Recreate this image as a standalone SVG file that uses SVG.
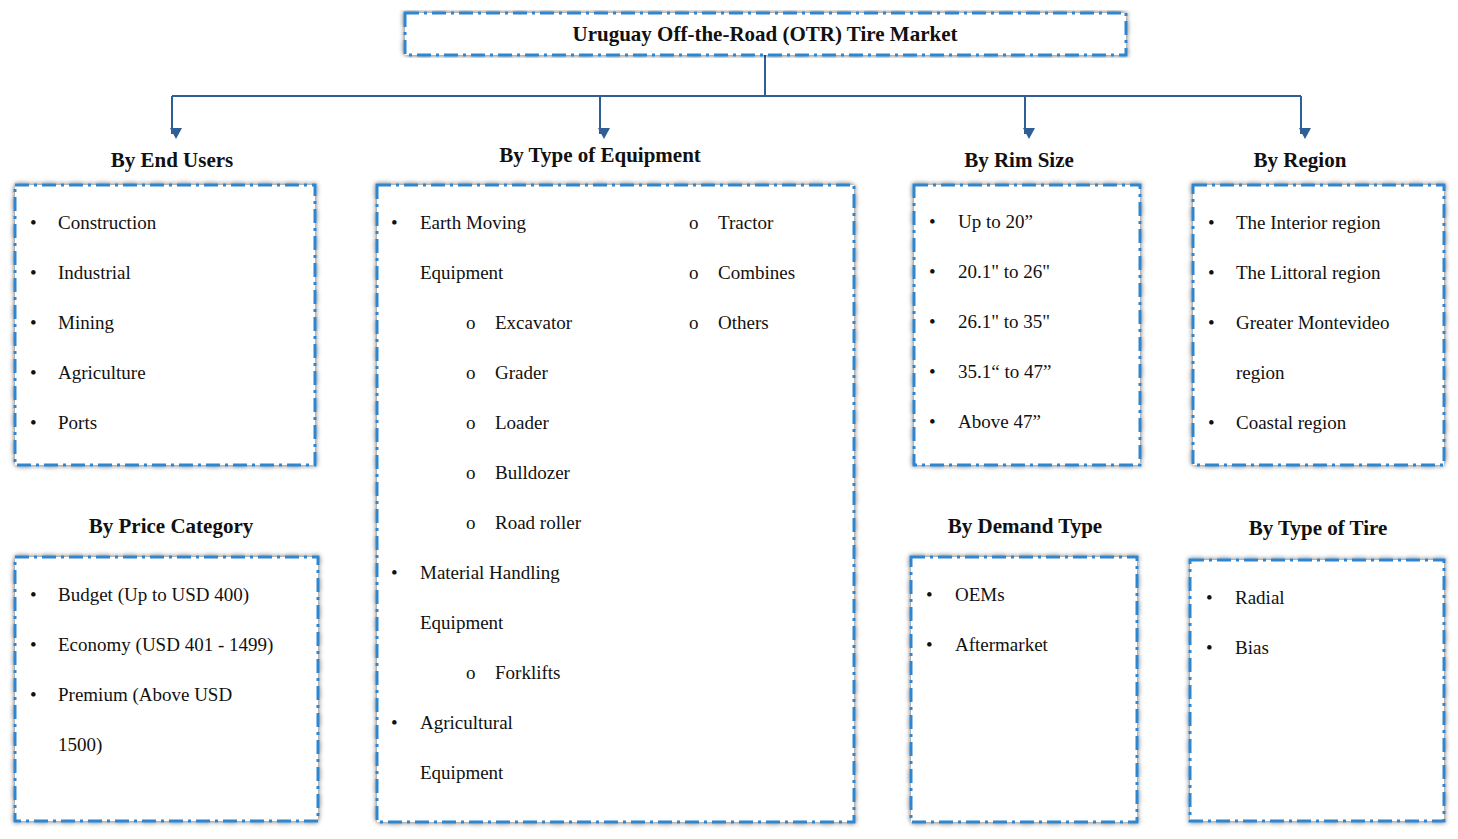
<svg xmlns="http://www.w3.org/2000/svg" width="1458" height="839" viewBox="0 0 1458 839">
<defs>
<filter id="sh" x="-5%" y="-5%" width="110%" height="110%"><feGaussianBlur in="SourceAlpha" stdDeviation="2.5"/><feOffset dx="0" dy="0"/><feComponentTransfer><feFuncA type="linear" slope="0.6"/></feComponentTransfer><feMerge><feMergeNode/><feMergeNode in="SourceGraphic"/></feMerge></filter>
<marker id="ar" markerWidth="12" markerHeight="12" refX="6" refY="10" orient="auto" markerUnits="userSpaceOnUse" viewBox="0 0 12 12"><path d="M0,0 L12,0 L6,11 Z" fill="#2F5F96" transform="rotate(-90 6 6)"/></marker>
<style>
.box{fill:#fff;stroke:#2E86D0;stroke-width:3;stroke-dasharray:14 5 3 5;filter:url(#sh)}
text{font-family:"Liberation Serif","DejaVu Serif",serif;font-size:19px;fill:#111}
.h{font-weight:bold;font-size:21px;text-anchor:middle}
.c{stroke:#2F5F96;stroke-width:2;fill:none}
</style>
</defs>
<g id="connectors">
<path class="c" d="M765,55 V97 M172,96 H1301"/>
<path class="c" d="M172,96 V134" marker-end="url(#ar)"/>
<path class="c" d="M600,96 V134" marker-end="url(#ar)"/>
<path class="c" d="M1025,96 V134" marker-end="url(#ar)"/>
<path class="c" d="M1301,96 V134" marker-end="url(#ar)"/>
</g>
<g id="title"><rect class="box" x="405" y="13" width="721" height="42"/><text class="h" x="765" y="41">Uruguay Off-the-Road (OTR) Tire Market</text></g>
<g id="end-users"><text class="h" x="172" y="167">By End Users</text><rect class="box" x="15" y="185" width="300" height="280"/>
<text x="30" y="229">•</text><text x="58" y="229">Construction</text>
<text x="30" y="279">•</text><text x="58" y="279">Industrial</text>
<text x="30" y="329">•</text><text x="58" y="329">Mining</text>
<text x="30" y="379">•</text><text x="58" y="379">Agriculture</text>
<text x="30" y="429">•</text><text x="58" y="429">Ports</text></g>
<g id="equipment"><text class="h" x="600" y="162">By Type of Equipment</text><rect class="box" x="377" y="185" width="477" height="637"/>
<text x="391" y="229">•</text><text x="420" y="229">Earth Moving</text>
<text x="420" y="279">Equipment</text>
<text x="466" y="329">o</text><text x="495" y="329">Excavator</text>
<text x="466" y="379">o</text><text x="495" y="379">Grader</text>
<text x="466" y="429">o</text><text x="495" y="429">Loader</text>
<text x="466" y="479">o</text><text x="495" y="479">Bulldozer</text>
<text x="466" y="529">o</text><text x="495" y="529">Road roller</text>
<text x="391" y="579">•</text><text x="420" y="579">Material Handling</text>
<text x="420" y="629">Equipment</text>
<text x="466" y="679">o</text><text x="495" y="679">Forklifts</text>
<text x="391" y="729">•</text><text x="420" y="729">Agricultural</text>
<text x="420" y="779">Equipment</text>
<text x="689" y="229">o</text><text x="718" y="229">Tractor</text>
<text x="689" y="279">o</text><text x="718" y="279">Combines</text>
<text x="689" y="329">o</text><text x="718" y="329">Others</text></g>
<g id="rim"><text class="h" x="1019" y="167">By Rim Size</text><rect class="box" x="914" y="185" width="226" height="280"/>
<text x="929" y="228">•</text><text x="958" y="228">Up to 20”</text>
<text x="929" y="278">•</text><text x="958" y="278">20.1" to 26"</text>
<text x="929" y="328">•</text><text x="958" y="328">26.1" to 35"</text>
<text x="929" y="378">•</text><text x="958" y="378">35.1“ to 47”</text>
<text x="929" y="428">•</text><text x="958" y="428">Above 47”</text></g>
<g id="region"><text class="h" x="1300" y="167">By Region</text><rect class="box" x="1193" y="185" width="251" height="280"/>
<text x="1208" y="229">•</text><text x="1236" y="229">The Interior region</text>
<text x="1208" y="279">•</text><text x="1236" y="279">The Littoral region</text>
<text x="1208" y="329">•</text><text x="1236" y="329">Greater Montevideo</text>
<text x="1236" y="379">region</text>
<text x="1208" y="429">•</text><text x="1236" y="429">Coastal region</text></g>
<g id="price"><text class="h" x="171" y="533">By Price Category</text><rect class="box" x="15" y="557" width="303" height="264"/>
<text x="30" y="601">•</text><text x="58" y="601">Budget (Up to USD 400)</text>
<text x="30" y="651">•</text><text x="58" y="651">Economy (USD 401 - 1499)</text>
<text x="30" y="701">•</text><text x="58" y="701">Premium (Above USD</text>
<text x="58" y="751">1500)</text></g>
<g id="demand"><text class="h" x="1025" y="533">By Demand Type</text><rect class="box" x="911" y="557" width="226" height="265"/>
<text x="926" y="601">•</text><text x="955" y="601">OEMs</text>
<text x="926" y="651">•</text><text x="955" y="651">Aftermarket</text></g>
<g id="tire"><text class="h" x="1318" y="535">By Type of Tire</text><rect class="box" x="1190" y="560" width="254" height="261"/>
<text x="1206" y="604">•</text><text x="1235" y="604">Radial</text>
<text x="1206" y="654">•</text><text x="1235" y="654">Bias</text></g>
</svg>
